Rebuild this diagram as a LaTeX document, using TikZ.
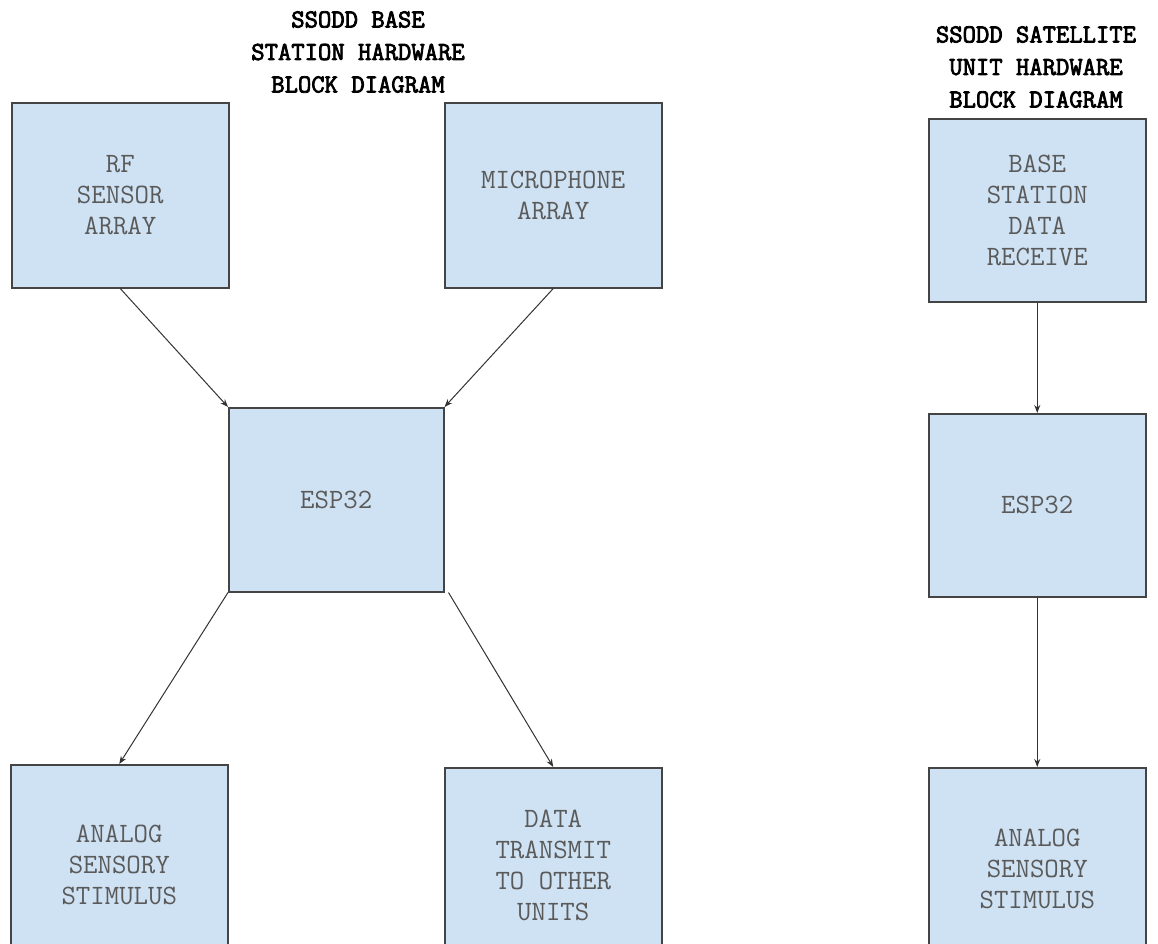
\documentclass[tikz,border=0pt]{standalone}
\usepackage{fontspec}
\newfontfamily\ttlfont[FakeBold=3]{Latin Modern Mono}
\usetikzlibrary{arrows.meta}
\definecolor{boxfill}{HTML}{CFE2F3}
\definecolor{boxline}{HTML}{444444}
\definecolor{boxtext}{HTML}{5A5A5A}
\definecolor{arrowc}{HTML}{333333}
\begin{document}
\begin{tikzpicture}[x=1pt,y=-1pt,
  blk/.style={draw=boxline,fill=boxfill,line width=1.5pt,rectangle,anchor=north west,
    inner sep=0pt,align=center,text=boxtext,
    font=\ttfamily\fontsize{28}{31}\selectfont},
  ttl/.style={align=center,font=\ttlfont\fontsize{25.9}{32.5}\selectfont,text=black},
  conn/.style={draw=arrowc,line width=1pt,-{Stealth[length=8pt,width=6pt]}}]
\path[use as bounding box] (0,0) rectangle (1158,943);
\clip (0,0) rectangle (1158,943);
\node[ttl] (t1) at (358,52) {SSODD BASE\\STATION HARDWARE\\BLOCK DIAGRAM};
\node[ttl] (t2) at (1036,67) {SSODD SATELLITE\\UNIT HARDWARE\\BLOCK DIAGRAM};
\node[blk,minimum width=217pt,minimum height=185pt] (rf) at (11,102) {RF\\SENSOR\\ARRAY};
\node[blk,minimum width=217pt,minimum height=185pt] (mic) at (444,102) {MICROPHONE\\ARRAY};
\node[blk,minimum width=215pt,minimum height=184pt] (esp) at (228,407) {ESP32};
\node[blk,minimum width=217pt,minimum height=200pt] (an) at (10,764) {ANALOG\\SENSORY\\STIMULUS};
\node[blk,minimum width=217pt,minimum height=196pt] (dt) at (444,767) {DATA\\TRANSMIT\\TO OTHER\\UNITS};
\node[blk,minimum width=217pt,minimum height=183pt] (bs) at (928,118) {BASE\\STATION\\DATA\\RECEIVE};
\node[blk,minimum width=217pt,minimum height=183pt] (esp2) at (928,413) {ESP32};
\node[blk,minimum width=217pt,minimum height=202pt] (an2) at (928,767) {ANALOG\\SENSORY\\STIMULUS};
\draw[conn] (rf.south) -- (esp.north west);
\draw[conn] (mic.south) -- (esp.north east);
\draw[conn] (esp.south west) -- (an.north);
\draw[conn] ([xshift=4pt]esp.south east) -- (dt.north);
\draw[conn] (bs.south) -- (esp2.north);
\draw[conn] (esp2.south) -- (an2.north);
\end{tikzpicture}
\end{document}
